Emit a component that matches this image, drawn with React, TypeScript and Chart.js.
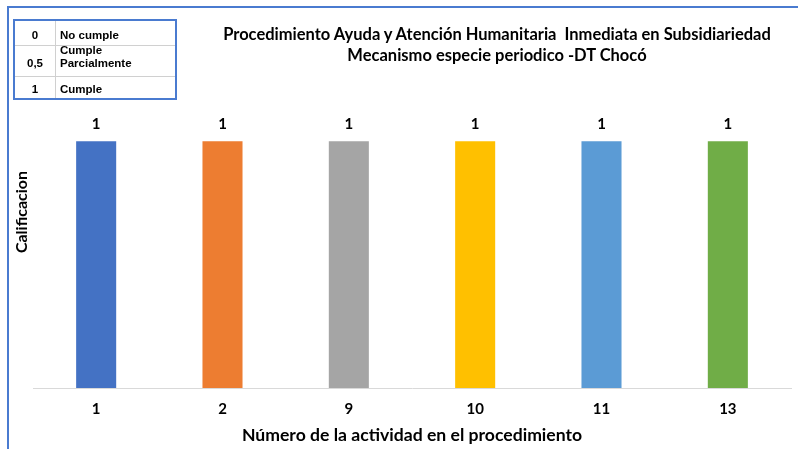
import React, { useEffect, useRef } from "react";
import { Chart, registerables } from "chart.js";

Chart.register(...registerables);

const categories = ["1", "2", "9", "10", "11", "13"];
const values = [1, 1, 1, 1, 1, 1];
const barColors = ["#4472C4", "#ED7D31", "#A5A5A5", "#FFC000", "#5B9BD5", "#70AD47"];
const titleLines = [
  "Procedimiento Ayuda y Atención Humanitaria  Inmediata en Subsidiariedad",
  "Mecanismo especie periodico -DT Chocó",
];
const xTitle = "Número de la actividad en el procedimiento";
const yTitle = "Calificacion";
const legendCodes = ["0", "0,5", "1"];
const legendLabels = [["No cumple"], ["Cumple", "Parcialmente"], ["Cumple"]];

const FONT = "Lato, 'Open Sans', sans-serif";

const valueLabels = {
  id: "valueLabels",
  afterDatasetsDraw(chart: any) {
    const ctx = chart.ctx;
    const meta = chart.getDatasetMeta(0);
    ctx.save();
    ctx.font = `bold 15px ${FONT}`;
    ctx.fillStyle = "#000000";
    ctx.textAlign = "center";
    ctx.textBaseline = "middle";
    meta.data.forEach((el: any, i: number) => {
      ctx.fillText(String(values[i]), el.x, el.y - 17);
    });
    ctx.restore();
  },
};

const yTitlePlugin = {
  id: "yTitlePlugin",
  afterDraw(chart: any) {
    const ctx = chart.ctx;
    ctx.save();
    ctx.translate(22, 212);
    ctx.rotate(-Math.PI / 2);
    ctx.font = `bold 16px ${FONT}`;
    ctx.fillStyle = "#000000";
    ctx.textAlign = "center";
    ctx.textBaseline = "middle";
    ctx.fillText(yTitle, 0, 0);
    ctx.restore();
  },
};

export default function App() {
  const ref = useRef<HTMLCanvasElement>(null);
  useEffect(() => {
    if (!ref.current) return;
    const chart = new Chart(ref.current, {
      type: "bar",
      data: {
        labels: categories,
        datasets: [
          {
            data: values,
            backgroundColor: barColors,
            borderWidth: 0,
            categoryPercentage: 1,
            barPercentage: 0.317,
          },
        ],
      },
      options: {
        animation: false,
        responsive: false,
        maintainAspectRatio: false,
        layout: { padding: { top: 92, right: 7, bottom: 0, left: 0 } },
        plugins: {
          legend: { display: false },
          tooltip: { enabled: false },
          title: { display: false },
        },
        scales: {
          x: {
            grid: { display: false, drawTicks: false },
            border: { display: true, color: "#D9D9D9", width: 1 },
            ticks: {
              color: "#000000",
              padding: 12,
              font: { family: FONT, size: 15, weight: "bold" },
            },
            title: {
              display: true,
              text: xTitle,
              color: "#000000",
              font: { family: FONT, size: 17.6, weight: "bold" },
              padding: { top: 2, bottom: 3 },
            },
            afterFit: (s: any) => {
              s.height = 61;
            },
          },
          y: {
            min: 0,
            max: 1.2,
            grid: { display: false, drawTicks: false },
            border: { display: false },
            ticks: { display: false },
            title: { display: false },
            afterFit: (s: any) => {
              s.width = 33;
            },
          },
        },
      },
      plugins: [valueLabels, yTitlePlugin],
    });
    return () => chart.destroy();
  }, []);

  const cellText: React.CSSProperties = {
    position: "absolute",
    fontFamily: "'Liberation Sans', Arial, sans-serif",
    fontWeight: "bold",
    fontSize: 11.5,
    lineHeight: "13px",
    color: "#000",
  };
  const rowBottoms = [42, 70, 96];

  return (
    <div style={{ position: "fixed", left: 0, top: 0, width: 798, height: 449, background: "#fff", overflow: "hidden" }}>
      <canvas ref={ref} width={798} height={449} style={{ position: "absolute", left: 0, top: 0 }} />
      <div
        style={{
          position: "absolute",
          left: 7,
          top: 6,
          width: 800,
          height: 460,
          borderTop: "2px solid #4A7BD0",
          borderLeft: "2px solid #4A7BD0",
          boxSizing: "border-box",
          pointerEvents: "none",
        }}
      />
      <div
        style={{
          position: "absolute",
          left: 197,
          width: 600,
          top: 24,
          textAlign: "center",
          fontFamily: FONT,
          fontWeight: "bold",
          fontSize: 16.5,
          lineHeight: "21px",
          color: "#000",
          whiteSpace: "pre",
        }}
      >
        {titleLines.map((t, i) => (
          <div key={i}>{t}</div>
        ))}
      </div>
      <div
        style={{
          position: "absolute",
          left: 13,
          top: 19,
          width: 164,
          height: 81,
          border: "2px solid #4A7BD0",
          boxSizing: "border-box",
          background: "#fff",
        }}
      >
        <div style={{ position: "absolute", left: 40, top: 0, width: 1, height: 77, background: "#D0D0D0" }} />
        <div style={{ position: "absolute", left: 0, top: 24, width: 160, height: 1, background: "#D0D0D0" }} />
        <div style={{ position: "absolute", left: 0, top: 55, width: 160, height: 1, background: "#D0D0D0" }} />
        {legendCodes.map((c, i) => (
          <React.Fragment key={i}>
            <div style={{ ...cellText, left: 0, width: 40, textAlign: "center", top: rowBottoms[i] - 21 - 13 }}>{c}</div>
            <div style={{ ...cellText, left: 45, top: rowBottoms[i] - 21 - 13 * legendLabels[i].length }}>
              {legendLabels[i].map((l, j) => (
                <div key={j}>{l}</div>
              ))}
            </div>
          </React.Fragment>
        ))}
      </div>
    </div>
  );
}
